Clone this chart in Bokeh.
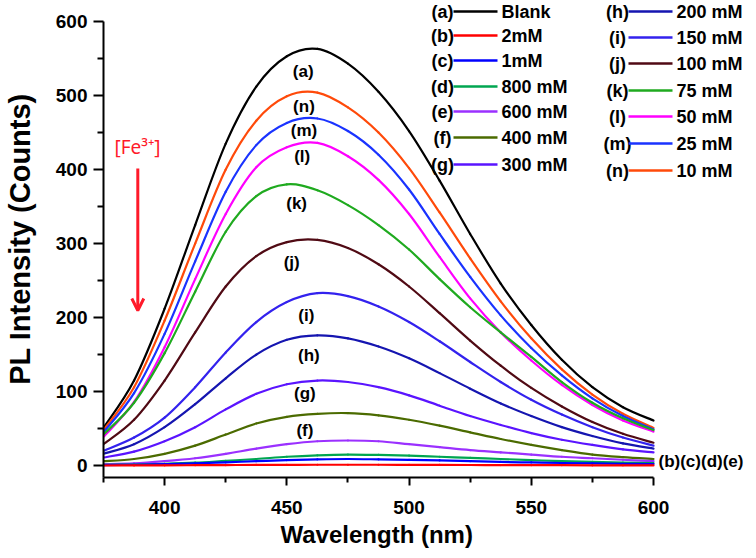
from bokeh.plotting import figure
from bokeh.models import Range1d, FixedTicker, Label, Arrow, OpenHead, Title
from bokeh.core.properties import value
from bokeh.embed import file_html
from bokeh.resources import INLINE

# ---------------- data ----------------
wavelength = [375, 387.5, 400, 412.5, 425, 437.5, 450, 462.5, 475, 487.5,
              500, 512.5, 525, 537.5, 550, 562.5, 575, 587.5, 600]

blank  = [51, 115, 212, 325, 435, 512, 553, 563, 543, 505, 452, 385, 313, 246, 190, 143, 106, 79, 61]
mM10   = [48, 106, 196, 300, 400, 466, 499, 504, 484, 450, 402, 342, 280, 222, 172, 130, 96, 70, 51]
mM25   = [45, 98, 178, 276, 370, 433, 463, 469, 452, 420, 373, 313, 255, 203, 159, 122, 91, 67, 49]
mM50   = [39, 86, 160, 252, 340, 403, 430, 436, 418, 386, 340, 282, 226, 180, 142, 109, 82, 61, 46]
mM75   = [42, 85, 152, 235, 316, 364, 380, 372, 352, 325, 292, 252, 214, 180, 147, 113, 85, 64, 48]
mM100  = [29, 62, 115, 180, 242, 283, 302, 305, 294, 272, 242, 206, 169, 135, 105, 80, 59, 43, 31]
mM150  = [20, 38, 65, 106, 153, 194, 221, 233, 229, 215, 194, 168, 140, 113, 89, 69, 52, 38, 27]
mM200  = [16, 29, 52, 83, 118, 150, 170, 176, 172, 161, 145, 125, 104, 84, 67, 52, 40, 30, 23]
mM300  = [11, 19, 33, 52, 76, 97, 110, 115, 113, 106, 95, 81, 67, 55, 44, 35, 28, 22, 18]
mM400  = [6, 9, 16, 27, 42, 57, 66, 70, 71, 68, 62, 54, 45, 36, 28, 21, 15, 11.5, 9]
mM600  = [2, 3, 6, 10, 16, 23, 29, 33, 34, 33, 29, 25, 21, 18, 15, 12, 10, 8, 6]
mM800  = [1, 1.5, 2.5, 4, 6.5, 9, 12, 14, 15, 14.5, 13.5, 12, 10.5, 9, 7.5, 6, 5, 4, 3.5]
mM1000 = [0.8, 1.2, 2, 3, 4.5, 6, 7.5, 8.5, 9, 8.5, 7.8, 7, 6, 5, 4.3, 3.6, 3, 2.5, 2.2]
mM2000 = [0.2, 0.3, 0.4, 0.6, 0.8, 1.0, 1.1, 1.2, 1.2, 1.2, 1.1, 1.0, 0.9, 0.8, 0.7, 0.6, 0.5, 0.4, 0.3]

tags   = ["(a)", "(b)", "(c)", "(d)", "(e)", "(f)", "(g)",
          "(h)", "(i)", "(j)", "(k)", "(l)", "(m)", "(n)"]
names  = ["Blank", "2mM", "1mM", "800 mM", "600 mM", "400 mM", "300 mM",
          "200 mM", "150 mM", "100 mM", "75 mM", "50 mM", "25 mM", "10 mM"]
series = [blank, mM2000, mM1000, mM800, mM600, mM400, mM300,
          mM200, mM150, mM100, mM75, mM50, mM25, mM10]
colors = ["#000000", "#ff0000", "#0000ff", "#00a651", "#9b30ff", "#4b6b00", "#5a14ff",
          "#1515b0", "#3322ee", "#500a14", "#1faa1f", "#ff00ff", "#1a33ff", "#ff4a0a"]

# curve tags drawn on the chart
curve_tags = ["(a)", "(n)", "(m)", "(l)", "(k)", "(j)", "(i)", "(h)", "(g)", "(f)"]
tag_wl     = [456.7, 457, 457, 456.3, 454, 452, 458, 459, 457.4, 457.4]
tag_int    = [533, 485, 453, 417, 354, 275, 203, 149, 98, 48]

x_ticks = [400, 450, 500, 550, 600]
x_minor = [375, 425, 475, 525, 575]
y_ticks = [0, 100, 200, 300, 400, 500, 600]
y_minor = [50, 150, 250, 350, 450, 550]

# ---------------- geometry (pixels of the picture) ----------------
W, H = 756, 558
FL, FB = 103, 477            # frame left / bottom
PX_NM = 550.0 / 225.0        # px per nm
PX_CT = 456.0 / 616.0        # px per count
X_LO, Y_LO = 375, -16
X_HI = X_LO + (W - FL) / PX_NM
Y_HI = Y_LO + FB / PX_CT

def X(px):
    return X_LO + (px - FL) / PX_NM

def Y(py):
    return Y_LO + (FB - py) / PX_CT

FONT = "Liberation Sans"
p = figure(width=W, height=H, output_backend="svg", toolbar_location=None,
           x_range=Range1d(X_LO, X_HI), y_range=Range1d(Y_LO, Y_HI),
           min_border_left=FL, min_border_right=0, min_border_top=0,
           min_border_bottom=H - FB, y_axis_label="PL Intensity (Counts)")
p.outline_line_color = None
p.grid.visible = False
p.background_fill_color = "white"
p.border_fill_color = "white"

p.xaxis.ticker = FixedTicker(ticks=x_ticks, minor_ticks=x_minor)
p.yaxis.ticker = FixedTicker(ticks=y_ticks, minor_ticks=y_minor)
p.xaxis.bounds = (375, 600)
p.yaxis.bounds = (-16, 600)
for ax in (p.xaxis, p.yaxis):
    ax.axis_line_width = 2
    ax.axis_line_color = "black"
    ax.major_tick_line_width = 2
    ax.minor_tick_line_width = 2
    ax.major_tick_in = 0
    ax.minor_tick_in = 0
    ax.major_label_text_font = FONT
    ax.major_label_text_font_style = "bold"
    ax.major_label_text_font_size = "19px"
    ax.major_label_text_color = "black"
    ax.axis_label_text_font = FONT
    ax.axis_label_text_font_style = "bold"
    ax.axis_label_text_color = "black"
p.xaxis.major_tick_out = 8
p.xaxis.minor_tick_out = 5
p.yaxis.major_tick_out = 10
p.yaxis.minor_tick_out = 6
p.xaxis.major_label_standoff = 15
p.yaxis.major_label_standoff = 6
p.yaxis.axis_label_text_font_size = "29px"
p.yaxis.axis_label_standoff = 17

p.add_layout(Title(text="Wavelength (nm)", align="left", offset=280 - FL, standoff=4,
                   text_font=FONT, text_font_style="bold", text_font_size="24px",
                   text_color="black"), "below")

# curves as smooth cubic segments through the read points (Catmull-Rom control points)
def draw_smooth(xs, ys, color):
    n = len(xs)
    x0, y0, x1, y1, cx0, cy0, cx1, cy1 = [], [], [], [], [], [], [], []
    for i in range(n - 1):
        im, ip2 = max(i - 1, 0), min(i + 2, n - 1)
        x0.append(xs[i]); y0.append(ys[i]); x1.append(xs[i + 1]); y1.append(ys[i + 1])
        cx0.append(xs[i] + (xs[i + 1] - xs[im]) / 6.0)
        cy0.append(ys[i] + (ys[i + 1] - ys[im]) / 6.0)
        cx1.append(xs[i + 1] - (xs[ip2] - xs[i]) / 6.0)
        cy1.append(ys[i + 1] - (ys[ip2] - ys[i]) / 6.0)
    p.bezier(x0=x0, y0=y0, x1=x1, y1=y1, cx0=cx0, cy0=cy0, cx1=cx1, cy1=cy1,
             line_color=color, line_width=2.2, line_cap="round")

order = [0, 13, 12, 11, 10, 9, 8, 7, 6, 5, 4, 3, 2, 1]
for i in order:
    draw_smooth(wavelength, series[i], colors[i])

# tags on the curves
p.text(x=tag_wl, y=tag_int, text=curve_tags, text_font=value(FONT),
       text_font_style="bold", text_font_size="17px", text_align="center",
       text_baseline="middle", text_color="black")

# ---------------- legend ----------------
left_rows = [11, 35, 60, 86, 111, 137, 164]
right_rows = [11, 37, 63, 90, 116, 143, 170]
for k in range(14):
    if k < 7:
        py = left_rows[k]
        tag_x, l0, l1, tx = 442, 453, 497, 501
    else:
        py = right_rows[k - 7]
        tag_x, l0, l1, tx = 617, 628, 672, 676
    p.add_layout(Label(x=X(tag_x), y=Y(py), text=tags[k], text_font=FONT,
                       text_font_style="bold", text_font_size="18px",
                       text_align="center", text_baseline="middle", text_color="black"))
    p.add_layout(Arrow(start=None, end=None, x_start=X(l0), y_start=Y(py), x_end=X(l1), y_end=Y(py),
                       line_color=colors[k], line_width=2.5))
    p.add_layout(Label(x=X(tx), y=Y(py), text=names[k], text_font=FONT,
                       text_font_style="bold", text_font_size="18px",
                       text_align="left", text_baseline="middle", text_color="black"))

# group tag for the low curves, right of the axis end
p.add_layout(Label(x=X(658), y=Y(461), text="(b)(c)(d)(e)", text_font=FONT,
                   text_font_style="bold", text_font_size="17px",
                   text_align="left", text_baseline="middle", text_color="black"))

# [Fe3+] arrow
RED = "#ff1a2a"
p.add_layout(Label(x=X(137), y=Y(146), text="[Fe\u00b3\u207a]", text_font="Noto Sans",
                   text_font_size="19px", text_align="center", text_baseline="middle",
                   text_color=RED))
p.add_layout(Arrow(end=OpenHead(size=12, line_color=RED, line_width=3),
                   x_start=X(137.3), y_start=Y(168), x_end=X(137.3), y_end=Y(310),
                   line_color=RED, line_width=3))

open("out.html", "w").write(file_html(p, INLINE))
